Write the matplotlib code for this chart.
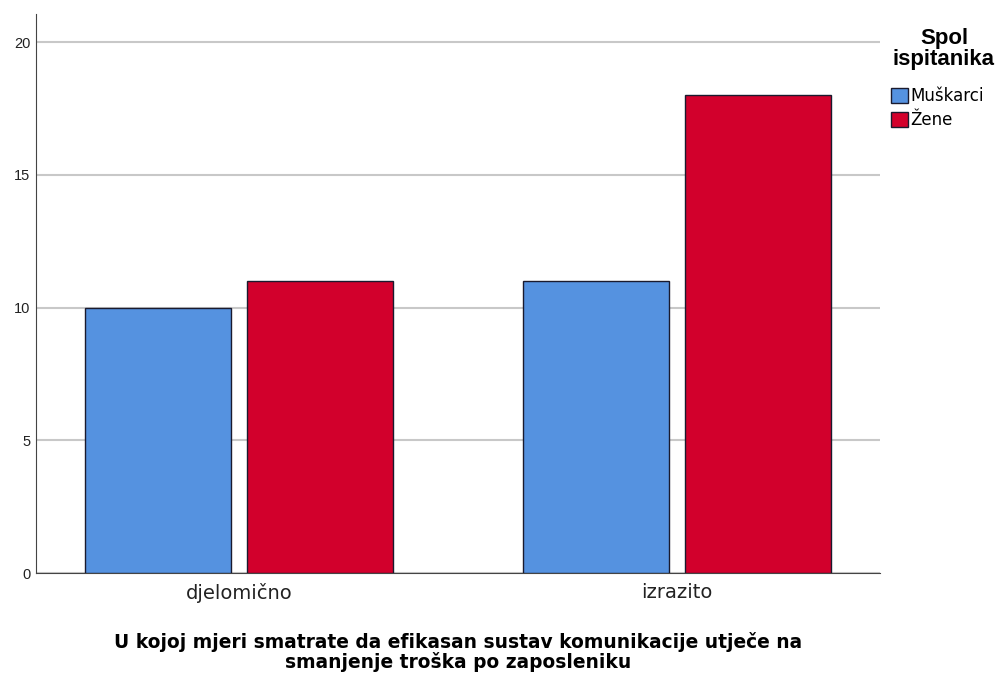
import numpy as np
import matplotlib.pyplot as plt
from matplotlib.patches import Patch

categories = ['djelomično', 'izrazito']
muskarci = [10, 11]
zene = [11, 18]
series_names = ['Muškarci', 'Žene']
colors = ['#5592E0', '#D2002C']
y_ticks = [0, 5, 10, 15, 20]

plt.rcParams['font.family'] = ['DejaVu Sans']

fig = plt.figure(figsize=(10, 6.8), dpi=100)
ax = fig.add_axes([0.036, 0.157, 0.844, 0.822])

x = np.arange(len(categories))
w = 0.333
ax.bar(x - 0.185, muskarci, w, color=colors[0], edgecolor='#1a1a2e', linewidth=1, zorder=3)
ax.bar(x + 0.185, zene, w, color=colors[1], edgecolor='#1a1a2e', linewidth=1, zorder=3)

ax.set_xlim(-0.463, 1.463)
ax.set_ylim(0, 21.05)
ax.set_yticks(y_ticks)
ax.set_yticklabels([str(v) for v in y_ticks], fontsize=10.5, family='Liberation Sans', color='#222222')
ax.set_xticks(x)
ax.set_xticklabels(categories, fontsize=14, color='#222222')
ax.tick_params(length=0, pad=4)
ax.tick_params(axis='x', pad=7)
ax.yaxis.grid(True, color='#c8c8c8', linewidth=1.5, zorder=0)
for s in ['top', 'right']:
    ax.spines[s].set_visible(False)
for s in ['left', 'bottom']:
    ax.spines[s].set_color('#444444')

ax.set_xlabel('U kojoj mjeri smatrate da efikasan sustav komunikacije utječe na\nsmanjenje troška po zaposleniku',
              fontsize=13.4, fontweight='bold', labelpad=21, linespacing=1.0)

# legend
fig.text(0.944, 1 - 49 / 680, 'Spol\nispitanika', ha='center', va='center', multialignment='center',
         fontsize=16, fontweight='bold', family='Liberation Sans', linespacing=1.0)
handles = [Patch(facecolor=c, edgecolor='#1a1a2e', linewidth=1) for c in colors]
ax.legend(handles, series_names, loc='upper left', bbox_to_anchor=(0.891, 1 - 87 / 680),
          bbox_transform=fig.transFigure, frameon=False, fontsize=12,
          handlelength=1.0, handleheight=1.0, handletextpad=0.15, labelspacing=0.38,
          borderpad=0, borderaxespad=0)

fig.savefig('out.png', dpi=100)
